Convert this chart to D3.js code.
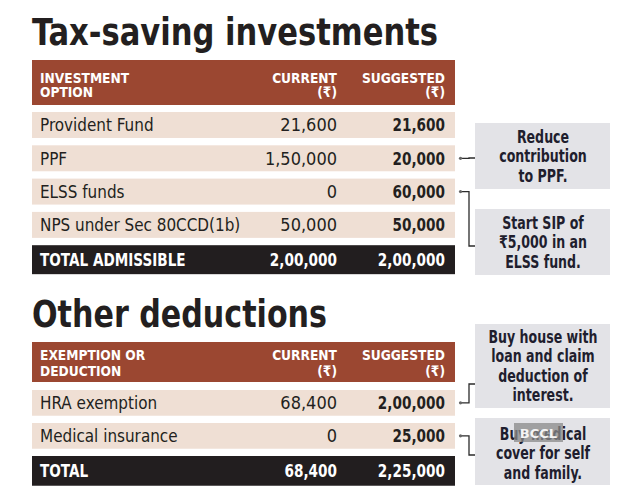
<!DOCTYPE html>
<html>
<head>
<meta charset="utf-8">
<script src="https://cdn.jsdelivr.net/npm/d3@7"></script>
<style>
  html, body { margin: 0; padding: 0; background: #fff; }
  svg { display: block; }
</style>
</head>
<body>
<svg id="chart"></svg>
<script>
// Table 1: tax-saving investments
const investOptions   = ["Provident Fund", "PPF", "ELSS funds", "NPS under Sec 80CCD(1b)"];
const investCurrent   = [21600, 150000, 0, 50000];
const investSuggested = [21600, 20000, 60000, 50000];
const investTotal     = [200000, 200000];

// Table 2: other deductions
const deductOptions   = ["HRA exemption", "Medical insurance"];
const deductCurrent   = [68400, 0];
const deductSuggested = [200000, 25000];
const deductTotal     = [68400, 225000];

// Side notes, each tied to a row
const investNotes = [
  { row: "PPF", lines: ["Reduce", "contribution", "to PPF."] },
  { row: "ELSS funds", lines: ["Start SIP of", "\u20b95,000 in an", "ELSS fund."] }
];
const deductNotes = [
  { row: "HRA exemption", lines: ["Buy house with", "loan and claim", "deduction of", "interest."] },
  { row: "Medical insurance", lines: ["Buy medical", "cover for self", "and family."] }
];

const W = 630, H = 501;
const COND = "'DejaVu Sans Condensed', 'Liberation Sans Narrow', 'Roboto Condensed', sans-serif";
const colors = {
  header: "#9b4731",
  row: "#efdfd4",
  total: "#221e1f",
  note: "#e3e3e7",
  ink: "#231f20",
  noteInk: "#1f1e2e",
  line: "#2b2b2b"
};

const svg = d3.select("#chart").attr("width", W).attr("height", H);

// Indian digit grouping, 1,50,000
function inr(n) {
  const s = String(Math.round(n));
  if (s.length <= 3) return s;
  const last3 = s.slice(-3);
  const rest = s.slice(0, -3).replace(/\B(?=(\d{2})+(?!\d))/g, ",");
  return rest + "," + last3;
}

// squeeze text horizontally by factor k
function squeeze(sel, k) {
  sel.each(function() {
    const w = this.getComputedTextLength();
    d3.select(this).attr("textLength", w * k).attr("lengthAdjust", "spacingAndGlyphs");
  });
}

const colLabel = 40, colCur = 337, colSug = 445;
const tableX = 32, tableW = 423;

function drawTable(cfg) {
  const g = svg.append("g");

  // title
  g.append("text")
    .attr("x", tableX).attr("y", cfg.titleY)
    .attr("font-family", COND).attr("font-weight", "bold").attr("font-size", 37)
    .attr("fill", colors.ink)
    .attr("textLength", cfg.titleW).attr("lengthAdjust", "spacingAndGlyphs")
    .text(cfg.title);

  // header band
  g.append("rect")
    .attr("x", tableX).attr("y", cfg.headY)
    .attr("width", tableW).attr("height", cfg.headH)
    .attr("fill", colors.header);

  const head = g.append("g")
    .attr("font-family", COND).attr("font-weight", "bold").attr("font-size", 14.5)
    .attr("fill", "#fff");
  const hl = [cfg.headLine1, cfg.headLine2];
  cfg.headFirst.forEach((t, i) => head.append("text").attr("x", colLabel).attr("y", hl[i]).text(t));
  head.append("text").attr("x", colCur).attr("y", hl[0]).attr("text-anchor", "end").text("CURRENT");
  head.append("text").attr("x", colCur).attr("y", hl[1]).attr("text-anchor", "end").text("(\u20b9)");
  head.append("text").attr("x", colSug).attr("y", hl[0]).attr("text-anchor", "end").text("SUGGESTED");
  head.append("text").attr("x", colSug).attr("y", hl[1]).attr("text-anchor", "end").text("(\u20b9)");
  squeeze(head.selectAll("text"), 0.94);

  const rows = cfg.options.map((o, i) => ({ label: o, cur: cfg.current[i], sug: cfg.suggested[i] }));
  const y = d3.scaleBand()
    .domain([...cfg.options, cfg.totalLabel])
    .range([cfg.rowStart, cfg.rowStart + cfg.step * (rows.length + 1 - 0.22)])
    .paddingInner(0.22).paddingOuter(0);

  const row = g.selectAll("g.row").data(rows).join("g")
    .attr("class", "row")
    .attr("transform", d => `translate(0,${y(d.label)})`);

  row.append("rect")
    .attr("x", tableX).attr("width", tableW)
    .attr("height", y.bandwidth())
    .attr("fill", colors.row);

  const ty = y.bandwidth() / 2 + 6.5;
  row.append("text").attr("class", "lab").attr("x", colLabel).attr("y", ty)
    .attr("font-family", COND).attr("font-size", 18).attr("fill", colors.ink)
    .text(d => d.label);
  squeeze(row.selectAll("text.lab"), 0.94);
  row.append("text").attr("x", colCur).attr("y", ty).attr("text-anchor", "end")
    .attr("font-family", COND).attr("font-size", 18).attr("fill", colors.ink)
    .text(d => inr(d.cur));
  row.append("text").attr("class", "sug").attr("x", colSug).attr("y", ty).attr("text-anchor", "end")
    .attr("font-family", COND).attr("font-weight", "bold").attr("font-size", 18).attr("fill", colors.ink)
    .text(d => inr(d.sug));
  squeeze(row.selectAll("text.sug"), 0.84);

  // total row
  const tot = g.append("g").attr("transform", `translate(0,${y(cfg.totalLabel)})`);
  const th = y.bandwidth() + cfg.totalExtra;
  tot.append("rect").attr("x", tableX).attr("width", tableW).attr("height", th).attr("fill", colors.total);
  const tt = tot.append("g")
    .attr("font-family", COND).attr("font-weight", "bold").attr("font-size", 18).attr("fill", "#fff");
  tt.append("text").attr("x", colLabel).attr("y", th / 2 + 6.5).text(cfg.totalLabel);
  tt.append("text").attr("x", colCur).attr("y", th / 2 + 6.5).attr("text-anchor", "end").text(inr(cfg.total[0]));
  tt.append("text").attr("x", colSug).attr("y", th / 2 + 6.5).attr("text-anchor", "end").text(inr(cfg.total[1]));
  squeeze(tt.selectAll("text"), 0.84);

  // side notes with connectors
  cfg.notes.forEach((n, i) => {
    const box = cfg.boxes[i];
    g.append("rect")
      .attr("x", 475).attr("y", box.y).attr("width", 135).attr("height", box.h)
      .attr("fill", colors.note);
    const nt = g.append("g")
      .attr("font-family", COND).attr("font-weight", "bold").attr("font-size", 17.5)
      .attr("fill", colors.noteInk).attr("text-anchor", "middle");
    n.lines.forEach((l, j) => {
      nt.append("text").attr("x", 543).attr("y", box.y + box.first + j * 19.4).text(l);
    });
    squeeze(nt.selectAll("text"), 0.8);

    const ry = y(n.row) + y.bandwidth() / 2;
    const path = ry === box.anchor
      ? `M460,${ry}H475`
      : `M460,${ry}H469V${box.anchor}H475`;
    g.append("path").attr("d", path)
      .attr("fill", "none").attr("stroke", colors.line).attr("stroke-width", 1.3);
    g.append("circle").attr("cx", 460.5).attr("cy", ry).attr("r", 1.6).attr("fill", "#666");
  });
}

drawTable({
  title: "Tax-saving investments", titleY: 45, titleW: 406,
  headY: 60, headH: 45, headLine1: 83, headLine2: 97,
  headFirst: ["INVESTMENT", "OPTION"],
  options: investOptions, current: investCurrent, suggested: investSuggested,
  totalLabel: "TOTAL ADMISSIBLE", total: investTotal,
  rowStart: 112, step: 33.3, totalExtra: 3,
  notes: investNotes,
  boxes: [
    { y: 123, h: 66, first: 20, anchor: 158 },
    { y: 209, h: 66, first: 20, anchor: 246 }
  ]
});

drawTable({
  title: "Other deductions", titleY: 327, titleW: 295,
  headY: 342, headH: 40, headLine1: 360, headLine2: 376,
  headFirst: ["EXEMPTION OR", "DEDUCTION"],
  options: deductOptions, current: deductCurrent, suggested: deductSuggested,
  totalLabel: "TOTAL", total: deductTotal,
  rowStart: 390, step: 33, totalExtra: 4,
  notes: deductNotes,
  boxes: [
    { y: 324, h: 84, first: 19, anchor: 384 },
    { y: 418, h: 67, first: 22, anchor: 455 }
  ]
});

// agency watermark
const wm = svg.append("g");
wm.append("rect").attr("x", 514).attr("y", 423).attr("width", 49).attr("height", 19)
  .attr("fill", "#8a8a8a").attr("opacity", 0.75);
wm.append("text").attr("x", 538.5).attr("y", 437.5).attr("text-anchor", "middle")
  .attr("font-family", "'DejaVu Sans', sans-serif").attr("font-weight", "bold").attr("font-size", 13)
  .attr("fill", "#f4f4f4").text("BCCL");
</script>
</body>
</html>
